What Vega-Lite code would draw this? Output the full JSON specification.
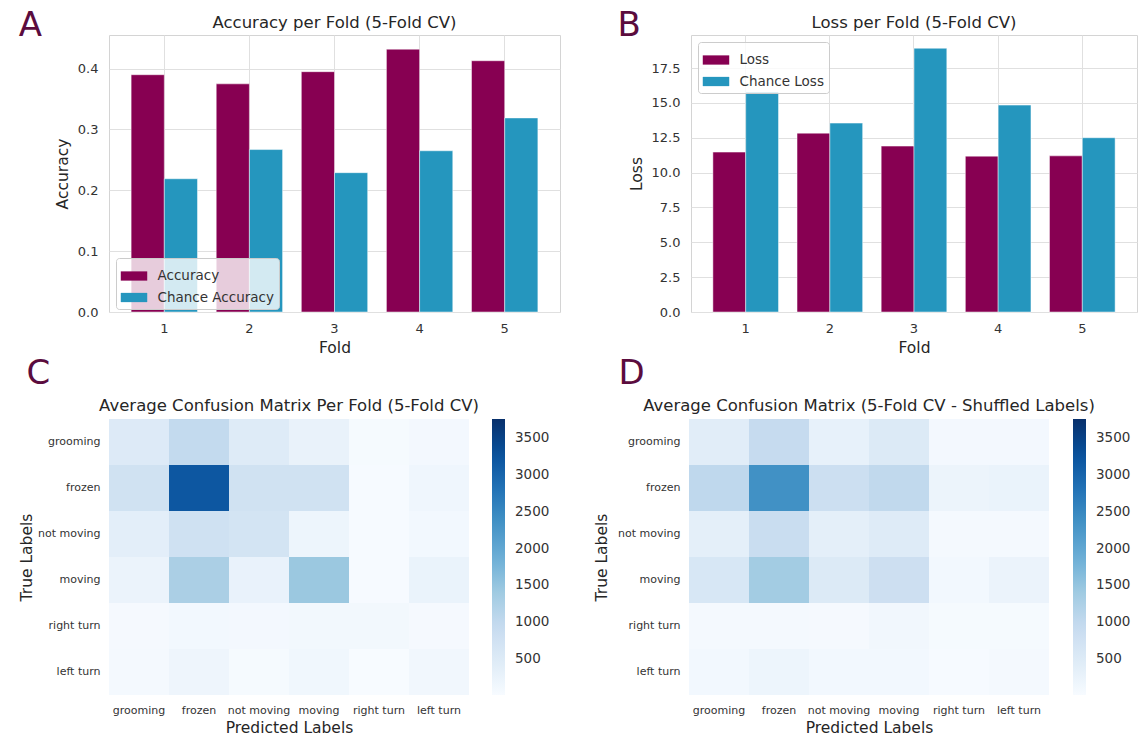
{
  "$schema": "https://vega.github.io/schema/vega-lite/v6.json",
  "padding": {"left": 18, "top": 9, "right": 0, "bottom": 0},
  "background": "white",
  "config": {
    "font": "DejaVu Sans",
    "view": {"stroke": "#d4d4d4"},
    "axis": {
      "labelColor": "#333333",
      "titleColor": "#262626",
      "labelFontSize": 13,
      "titleFontSize": 15.5,
      "titleFontWeight": "normal",
      "gridColor": "#e0e0e0",
      "domain": false,
      "ticks": false,
      "tickSize": 0
    },
    "legend": {"labelFont": "DejaVu Sans", "labelColor": "#333333"}
  },
  "spacing": 0,
  "resolve": {"scale": {"color": "independent", "xOffset": "independent", "x": "independent", "y": "independent"}, "legend": {"color": "independent"}},
  "vconcat": [
    {
      "spacing": 56,
      "resolve": {"scale": {"color": "independent", "xOffset": "independent", "x": "independent", "y": "independent"}, "legend": {"color": "independent"}},
      "hconcat": [
        {
          "title": {"text": "A", "anchor": "start", "frame": "bounds", "fontSize": 34, "fontWeight": "normal", "color": "#5b0c3e", "baseline": "alphabetic", "offset": 0, "dx": -36, "dy": 56},
          "vconcat": [
            {
              "title": {"text": "Accuracy per Fold (5-Fold CV)", "fontSize": 16.5, "fontWeight": "normal", "color": "#262626", "offset": 4},
              "width": 451,
              "height": 277,
              "data": {"values": [
                {"fold": "1", "series": "Accuracy", "value": 0.390},
                {"fold": "1", "series": "Chance Accuracy", "value": 0.219},
                {"fold": "2", "series": "Accuracy", "value": 0.375},
                {"fold": "2", "series": "Chance Accuracy", "value": 0.267},
                {"fold": "3", "series": "Accuracy", "value": 0.395},
                {"fold": "3", "series": "Chance Accuracy", "value": 0.229},
                {"fold": "4", "series": "Accuracy", "value": 0.432},
                {"fold": "4", "series": "Chance Accuracy", "value": 0.265},
                {"fold": "5", "series": "Accuracy", "value": 0.413},
                {"fold": "5", "series": "Chance Accuracy", "value": 0.319}
              ]},
              "mark": {"type": "bar", "stroke": "white", "strokeWidth": 0.8, "strokeOpacity": 0.6},
              "encoding": {
                "x": {"field": "fold", "type": "ordinal", "title": "Fold",
                      "scale": {"paddingInner": 0.22, "paddingOuter": 0.26},
                      "axis": {"labelAngle": 0, "bandPosition": 0.5, "grid": true, "labelPadding": 10, "titlePadding": 5}},
                "xOffset": {"field": "series", "sort": ["Accuracy", "Chance Accuracy"], "scale": {"paddingInner": 0, "paddingOuter": 0}},
                "y": {"field": "value", "type": "quantitative", "title": "Accuracy",
                      "scale": {"domain": [0, 0.4553], "nice": false},
                      "axis": {"values": [0, 0.1, 0.2, 0.3, 0.4], "format": ".1f", "grid": true, "labelPadding": 11, "titlePadding": 7}},
                "color": {"field": "series", "type": "nominal", "sort": ["Accuracy", "Chance Accuracy"],
                          "scale": {"domain": ["Accuracy", "Chance Accuracy"], "range": ["#870052", "#2596be"]},
                          "legend": {"title": null, "orient": "none", "legendX": 7, "legendY": 223, "padding": 4.5, "fillColor": "rgba(255,255,255,0.8)", "strokeColor": "#cccccc", "cornerRadius": 3, "labelFontSize": 13.5, "symbolType": "M-1,-0.35L1,-0.35L1,0.35L-1,0.35Z", "symbolSize": 700, "symbolStrokeWidth": 0, "rowPadding": 1.5, "labelOffset": 10}}
              }
            }
          ]
        },
        {
          "title": {"text": "B", "anchor": "start", "frame": "bounds", "fontSize": 34, "fontWeight": "normal", "color": "#5b0c3e", "baseline": "alphabetic", "offset": 0, "dx": -11, "dy": 56},
          "vconcat": [
            {
              "title": {"text": "Loss per Fold (5-Fold CV)", "fontSize": 16.5, "fontWeight": "normal", "color": "#262626", "offset": 4},
              "width": 446,
              "height": 277,
              "data": {"values": [
                {"fold": "1", "series": "Loss", "value": 11.47},
                {"fold": "1", "series": "Chance Loss", "value": 15.78},
                {"fold": "2", "series": "Loss", "value": 12.83},
                {"fold": "2", "series": "Chance Loss", "value": 13.55},
                {"fold": "3", "series": "Loss", "value": 11.90},
                {"fold": "3", "series": "Chance Loss", "value": 18.92},
                {"fold": "4", "series": "Loss", "value": 11.18},
                {"fold": "4", "series": "Chance Loss", "value": 14.84},
                {"fold": "5", "series": "Loss", "value": 11.20},
                {"fold": "5", "series": "Chance Loss", "value": 12.50}
              ]},
              "mark": {"type": "bar", "stroke": "white", "strokeWidth": 0.8, "strokeOpacity": 0.6},
              "encoding": {
                "x": {"field": "fold", "type": "ordinal", "title": "Fold",
                      "scale": {"paddingInner": 0.22, "paddingOuter": 0.26},
                      "axis": {"labelAngle": 0, "bandPosition": 0.5, "grid": true, "labelPadding": 10, "titlePadding": 5}},
                "xOffset": {"field": "series", "sort": ["Loss", "Chance Loss"], "scale": {"paddingInner": 0, "paddingOuter": 0}},
                "y": {"field": "value", "type": "quantitative", "title": "Loss",
                      "scale": {"domain": [0, 19.87], "nice": false},
                      "axis": {"values": [0, 2.5, 5, 7.5, 10, 12.5, 15, 17.5], "format": ".1f", "grid": true, "labelPadding": 11, "titlePadding": 7}},
                "color": {"field": "series", "type": "nominal", "sort": ["Loss", "Chance Loss"],
                          "scale": {"domain": ["Loss", "Chance Loss"], "range": ["#870052", "#2596be"]},
                          "legend": {"title": null, "orient": "none", "legendX": 7, "legendY": 7, "padding": 4.5, "fillColor": "rgba(255,255,255,0.8)", "strokeColor": "#cccccc", "cornerRadius": 3, "labelFontSize": 13.5, "symbolType": "M-1,-0.35L1,-0.35L1,0.35L-1,0.35Z", "symbolSize": 700, "symbolStrokeWidth": 0, "rowPadding": 1.5, "labelOffset": 10}}
              }
            }
          ]
        }
      ]
    },
    {
      "spacing": 44,
      "resolve": {"scale": {"color": "independent", "x": "independent", "y": "independent"}, "legend": {"color": "independent"}},
      "hconcat": [
        {
          "title": {"text": "C", "anchor": "start", "frame": "bounds", "fontSize": 34, "fontWeight": "normal", "color": "#5b0c3e", "baseline": "alphabetic", "offset": 0, "dx": 7, "dy": 20},
          "vconcat": [
            {
              "title": {"text": "Average Confusion Matrix Per Fold (5-Fold CV)", "fontSize": 16.5, "fontWeight": "normal", "color": "#262626", "offset": 5},
              "width": 360,
              "height": 276,
              "view": {"stroke": null},
              "data": {"values": [
                {"true": "grooming", "predicted": "grooming", "count": 500},
                {"true": "grooming", "predicted": "frozen", "count": 990},
                {"true": "grooming", "predicted": "not moving", "count": 480},
                {"true": "grooming", "predicted": "moving", "count": 280},
                {"true": "grooming", "predicted": "right turn", "count": 50},
                {"true": "grooming", "predicted": "left turn", "count": 90},
                {"true": "frozen", "predicted": "grooming", "count": 760},
                {"true": "frozen", "predicted": "frozen", "count": 3200},
                {"true": "frozen", "predicted": "not moving", "count": 760},
                {"true": "frozen", "predicted": "moving", "count": 750},
                {"true": "frozen", "predicted": "right turn", "count": 30},
                {"true": "frozen", "predicted": "left turn", "count": 160},
                {"true": "not moving", "predicted": "grooming", "count": 390},
                {"true": "not moving", "predicted": "frozen", "count": 780},
                {"true": "not moving", "predicted": "not moving", "count": 700},
                {"true": "not moving", "predicted": "moving", "count": 200},
                {"true": "not moving", "predicted": "right turn", "count": 40},
                {"true": "not moving", "predicted": "left turn", "count": 100},
                {"true": "moving", "predicted": "grooming", "count": 240},
                {"true": "moving", "predicted": "frozen", "count": 1270},
                {"true": "moving", "predicted": "not moving", "count": 270},
                {"true": "moving", "predicted": "moving", "count": 1450},
                {"true": "moving", "predicted": "right turn", "count": 40},
                {"true": "moving", "predicted": "left turn", "count": 260},
                {"true": "right turn", "predicted": "grooming", "count": 60},
                {"true": "right turn", "predicted": "frozen", "count": 100},
                {"true": "right turn", "predicted": "not moving", "count": 90},
                {"true": "right turn", "predicted": "moving", "count": 110},
                {"true": "right turn", "predicted": "right turn", "count": 110},
                {"true": "right turn", "predicted": "left turn", "count": 60},
                {"true": "left turn", "predicted": "grooming", "count": 70},
                {"true": "left turn", "predicted": "frozen", "count": 190},
                {"true": "left turn", "predicted": "not moving", "count": 50},
                {"true": "left turn", "predicted": "moving", "count": 140},
                {"true": "left turn", "predicted": "right turn", "count": 15},
                {"true": "left turn", "predicted": "left turn", "count": 120}
              ]},
              "mark": "rect",
              "encoding": {
                "x": {"field": "predicted", "type": "nominal", "title": "Predicted Labels",
                      "sort": ["grooming", "frozen", "not moving", "moving", "right turn", "left turn"],
                      "axis": {"labelAngle": 0, "labelFontSize": 11, "labelPadding": 9, "titlePadding": 5, "labelOverlap": false, "grid": false}},
                "y": {"field": "true", "type": "nominal", "title": "True Labels",
                      "sort": ["grooming", "frozen", "not moving", "moving", "right turn", "left turn"],
                      "axis": {"labelFontSize": 11, "labelPadding": 9, "titlePadding": 3, "grid": false}},
                "color": {"field": "count", "type": "quantitative",
                          "scale": {"domain": [15, 482.875, 950.75, 1418.625, 1886.5, 2354.375, 2822.25, 3290.125, 3758],
                                    "range": ["#f7fbff", "#deebf7", "#c6dbef", "#9ecae1", "#6baed6", "#4292c6", "#2171b5", "#08519c", "#08306b"],
                                    "interpolate": "rgb", "nice": false, "zero": false},
                          "legend": {"title": null, "orient": "none", "legendX": 383, "legendY": 0, "direction": "vertical", "gradientLength": 276, "gradientThickness": 13, "gradientStrokeWidth": 0, "values": [500, 1000, 1500, 2000, 2500, 3000, 3500], "format": "d", "labelFontSize": 13.5, "labelOffset": 10, "labelOverlap": false}}
              }
            }
          ]
        },
        {
          "title": {"text": "D", "anchor": "start", "frame": "bounds", "fontSize": 34, "fontWeight": "normal", "color": "#5b0c3e", "baseline": "alphabetic", "offset": 0, "dx": 24, "dy": 20},
          "vconcat": [
            {
              "title": {"text": "Average Confusion Matrix (5-Fold CV - Shuffled Labels)", "fontSize": 16.5, "fontWeight": "normal", "color": "#262626", "offset": 5},
              "width": 360,
              "height": 276,
              "view": {"stroke": null},
              "data": {"values": [
                {"true": "grooming", "predicted": "grooming", "count": 430},
                {"true": "grooming", "predicted": "frozen", "count": 950},
                {"true": "grooming", "predicted": "not moving", "count": 320},
                {"true": "grooming", "predicted": "moving", "count": 520},
                {"true": "grooming", "predicted": "right turn", "count": 90},
                {"true": "grooming", "predicted": "left turn", "count": 90},
                {"true": "frozen", "predicted": "grooming", "count": 1030},
                {"true": "frozen", "predicted": "frozen", "count": 2370},
                {"true": "frozen", "predicted": "not moving", "count": 840},
                {"true": "frozen", "predicted": "moving", "count": 1010},
                {"true": "frozen", "predicted": "right turn", "count": 220},
                {"true": "frozen", "predicted": "left turn", "count": 260},
                {"true": "not moving", "predicted": "grooming", "count": 370},
                {"true": "not moving", "predicted": "frozen", "count": 895},
                {"true": "not moving", "predicted": "not moving", "count": 370},
                {"true": "not moving", "predicted": "moving", "count": 490},
                {"true": "not moving", "predicted": "right turn", "count": 70},
                {"true": "not moving", "predicted": "left turn", "count": 70},
                {"true": "moving", "predicted": "grooming", "count": 610},
                {"true": "moving", "predicted": "frozen", "count": 1360},
                {"true": "moving", "predicted": "not moving", "count": 520},
                {"true": "moving", "predicted": "moving", "count": 820},
                {"true": "moving", "predicted": "right turn", "count": 100},
                {"true": "moving", "predicted": "left turn", "count": 240},
                {"true": "right turn", "predicted": "grooming", "count": 70},
                {"true": "right turn", "predicted": "frozen", "count": 75},
                {"true": "right turn", "predicted": "not moving", "count": 60},
                {"true": "right turn", "predicted": "moving", "count": 130},
                {"true": "right turn", "predicted": "right turn", "count": 45},
                {"true": "right turn", "predicted": "left turn", "count": 45},
                {"true": "left turn", "predicted": "grooming", "count": 100},
                {"true": "left turn", "predicted": "frozen", "count": 200},
                {"true": "left turn", "predicted": "not moving", "count": 100},
                {"true": "left turn", "predicted": "moving", "count": 100},
                {"true": "left turn", "predicted": "right turn", "count": 40},
                {"true": "left turn", "predicted": "left turn", "count": 70}
              ]},
              "mark": "rect",
              "encoding": {
                "x": {"field": "predicted", "type": "nominal", "title": "Predicted Labels",
                      "sort": ["grooming", "frozen", "not moving", "moving", "right turn", "left turn"],
                      "axis": {"labelAngle": 0, "labelFontSize": 11, "labelPadding": 9, "titlePadding": 5, "labelOverlap": false, "grid": false}},
                "y": {"field": "true", "type": "nominal", "title": "True Labels",
                      "sort": ["grooming", "frozen", "not moving", "moving", "right turn", "left turn"],
                      "axis": {"labelFontSize": 11, "labelPadding": 9, "titlePadding": 8, "grid": false}},
                "color": {"field": "count", "type": "quantitative",
                          "scale": {"domain": [15, 482.875, 950.75, 1418.625, 1886.5, 2354.375, 2822.25, 3290.125, 3758],
                                    "range": ["#f7fbff", "#deebf7", "#c6dbef", "#9ecae1", "#6baed6", "#4292c6", "#2171b5", "#08519c", "#08306b"],
                                    "interpolate": "rgb", "nice": false, "zero": false},
                          "legend": {"title": null, "orient": "none", "legendX": 384, "legendY": 0, "direction": "vertical", "gradientLength": 276, "gradientThickness": 13, "gradientStrokeWidth": 0, "values": [500, 1000, 1500, 2000, 2500, 3000, 3500], "format": "d", "labelFontSize": 13.5, "labelOffset": 10, "labelOverlap": false}}
              }
            }
          ]
        }
      ]
    }
  ]
}
